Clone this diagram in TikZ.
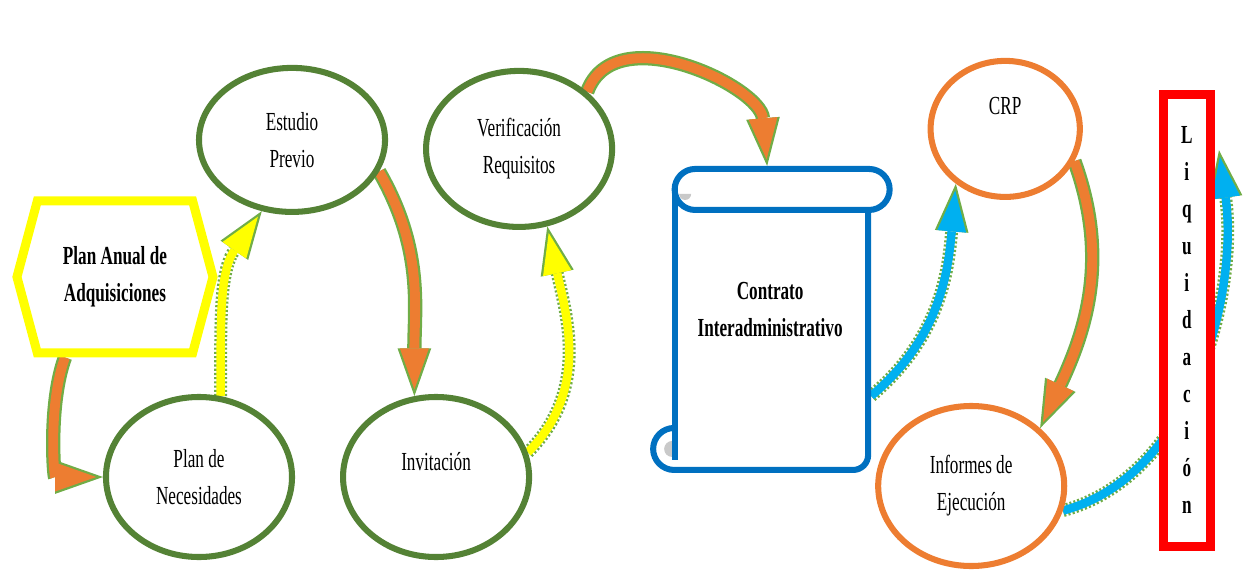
\documentclass[tikz,border=0pt]{standalone}
\usepackage{fontspec}
\setmainfont[FakeStretch=0.66]{Liberation Serif}
\usepackage{tikz}
\usetikzlibrary{shapes.geometric, shapes.symbols, positioning, arrows.meta}
\definecolor{stem}{HTML}{548235}
\definecolor{rim}{HTML}{70AD47}
\definecolor{tangerine}{HTML}{ED7D31}
\definecolor{lemon}{HTML}{FFFF00}
\definecolor{sky}{HTML}{00B0F0}
\definecolor{scrollblue}{HTML}{0070C0}
\definecolor{alarm}{HTML}{FF0000}
\definecolor{curl}{HTML}{C9C9C9}
\pgfdeclarelayer{back}
\pgfsetlayers{back,main}
\newcommand{\stagefont}{\fontsize{18.5pt}{26.3pt}\selectfont}
\tikzset{
every node/.style={font=\stagefont, align=center}, % one text size for every box
stage/.style={ellipse, draw=stem, line width=4.3pt, fill=white, minimum width=4.65cm, minimum height=4cm}, % green steps
payment/.style={stage, draw=tangerine}, % orange steps
plan/.style={signal, signal to=west and east, signal pointer angle=150, draw=lemon, line width=6.4pt, fill=white, minimum width=4.9cm, minimum height=3.8cm, font=\stagefont\bfseries},
deal/.style={font=\stagefont\bfseries}, % text inside the scroll
closing/.style={rectangle, draw=alarm, line width=6.4pt, fill=white, minimum width=1.18cm, minimum height=11.28cm, font=\stagefont\bfseries},
scrollline/.style={draw=scrollblue, line width=4.3pt, line join=round},
flow/.style={draw=tangerine, line width=7pt, -{Triangle[width=20.6pt, length=29.2pt, line width=0pt]}, shorten >=4.8pt,
    preaction={draw=rim, line width=10.2pt, -{Triangle[width=24pt, length=34pt, line width=0pt]}, shorten >=0pt}}, % solid edged arrow
hint/.style={draw=#1, line width=6pt, -{Triangle[width=20.6pt, length=29.2pt, line width=0pt]}, shorten >=4.8pt,
    preaction={draw=rim, line width=9.2pt, dash pattern=on 1.5pt off 1.5pt, -{Triangle[width=24pt, length=34pt, line width=0pt]}, shorten >=0pt}}, % dotted edged arrow
}
\begin{document}
\begin{tikzpicture}[x=0.025cm, y=0.025cm, on grid]
            \useasboundingbox (0,0) rectangle (1244,575);
            \node[stage] (pn) at (199,98) {Plan de\\Necesidades};
            \node[plan, above left=5cm and 2.1cm of pn] (pa) {Plan Anual de\\Adquisiciones};
            \node[stage, above right=8.425cm and 2.325cm of pn, minimum height=3.6cm] (ep) {Estudio\\Previo};
            \node[stage, right=5.925cm of pn] (inv) {Invitación\\[-3.5pt]\mbox{}};
            \node[stage, above right=8.2cm and 2.075cm of inv, minimum height=3.9cm] (vr) {Verificación\\Requisitos};
            \node[deal, above right=4.175cm and 8.35cm of inv] (ct) {Contrato\\Interadministrativo};
            \node[payment, below right=4.4cm and 5.025cm of ct] (ie) {Informes de\\Ejecución};
            \node[payment, above right=8.925cm and 0.85cm of ie, minimum width=3.73cm, minimum height=3.4cm] (crp) {CRP\\[6.4pt]\mbox{}};
            \node[closing, above right=4.14cm and 5.39cm of ie] (liq) {L\\i\\q\\u\\i\\d\\a\\c\\i\\ó\\n};
            \coordinate (liq-top) at ([xshift=0.1cm, yshift=-1.5cm]liq.north east);
            % the scroll around the contract
            \begin{scope}[shift={(ct.center)}]
                \fill[curl] (-91,116) arc[start angle=180, end angle=360, radius=6] -- cycle;
                \fill[curl] (-98,-131) arc[start angle=90, end angle=270, radius=8] -- cycle;
                \draw[scrollline] (-75,141) -- (99,141) arc[start angle=90, end angle=-90, radius=20.5] -- (-75,100) arc[start angle=270, end angle=90, radius=20.5];
                \draw[scrollline] (-95.5,120.5) -- (-95.5,-150);
                \draw[scrollline] (98,100) -- (98,-145) arc[start angle=0, end angle=-90, radius=15] -- (-96,-160) arc[start angle=270, end angle=90, radius=21];
                \coordinate (ct-top) at (-3,144);
                \coordinate (ct-right) at (101,-86);
            \end{scope}
            \begin{pgfonlayer}{back}
            \draw
                ([xshift=-1.25cm]pa.south) edge[flow, out=250, in=180] (pn.west)
                (pn.75) edge[hint=lemon, out=90, in=235] (ep.247)
                (ep.-20) edge[flow, out=-60, in=90] (inv.105)
                (inv.15) edge[hint=lemon, out=45, in=-78] (vr.-70)
                (vr.40) edge[flow, out=70, in=95, looseness=1.05] (ct-top)
                (ct-right) edge[hint=sky, out=40, in=-95] (crp.228)
                (crp.-25) edge[flow, out=-70, in=65] (ie.40)
                (ie.-15) edge[hint=sky, out=15, in=-82, looseness=0.9] (liq-top);
            \end{pgfonlayer}
        \end{tikzpicture}
\end{document}
